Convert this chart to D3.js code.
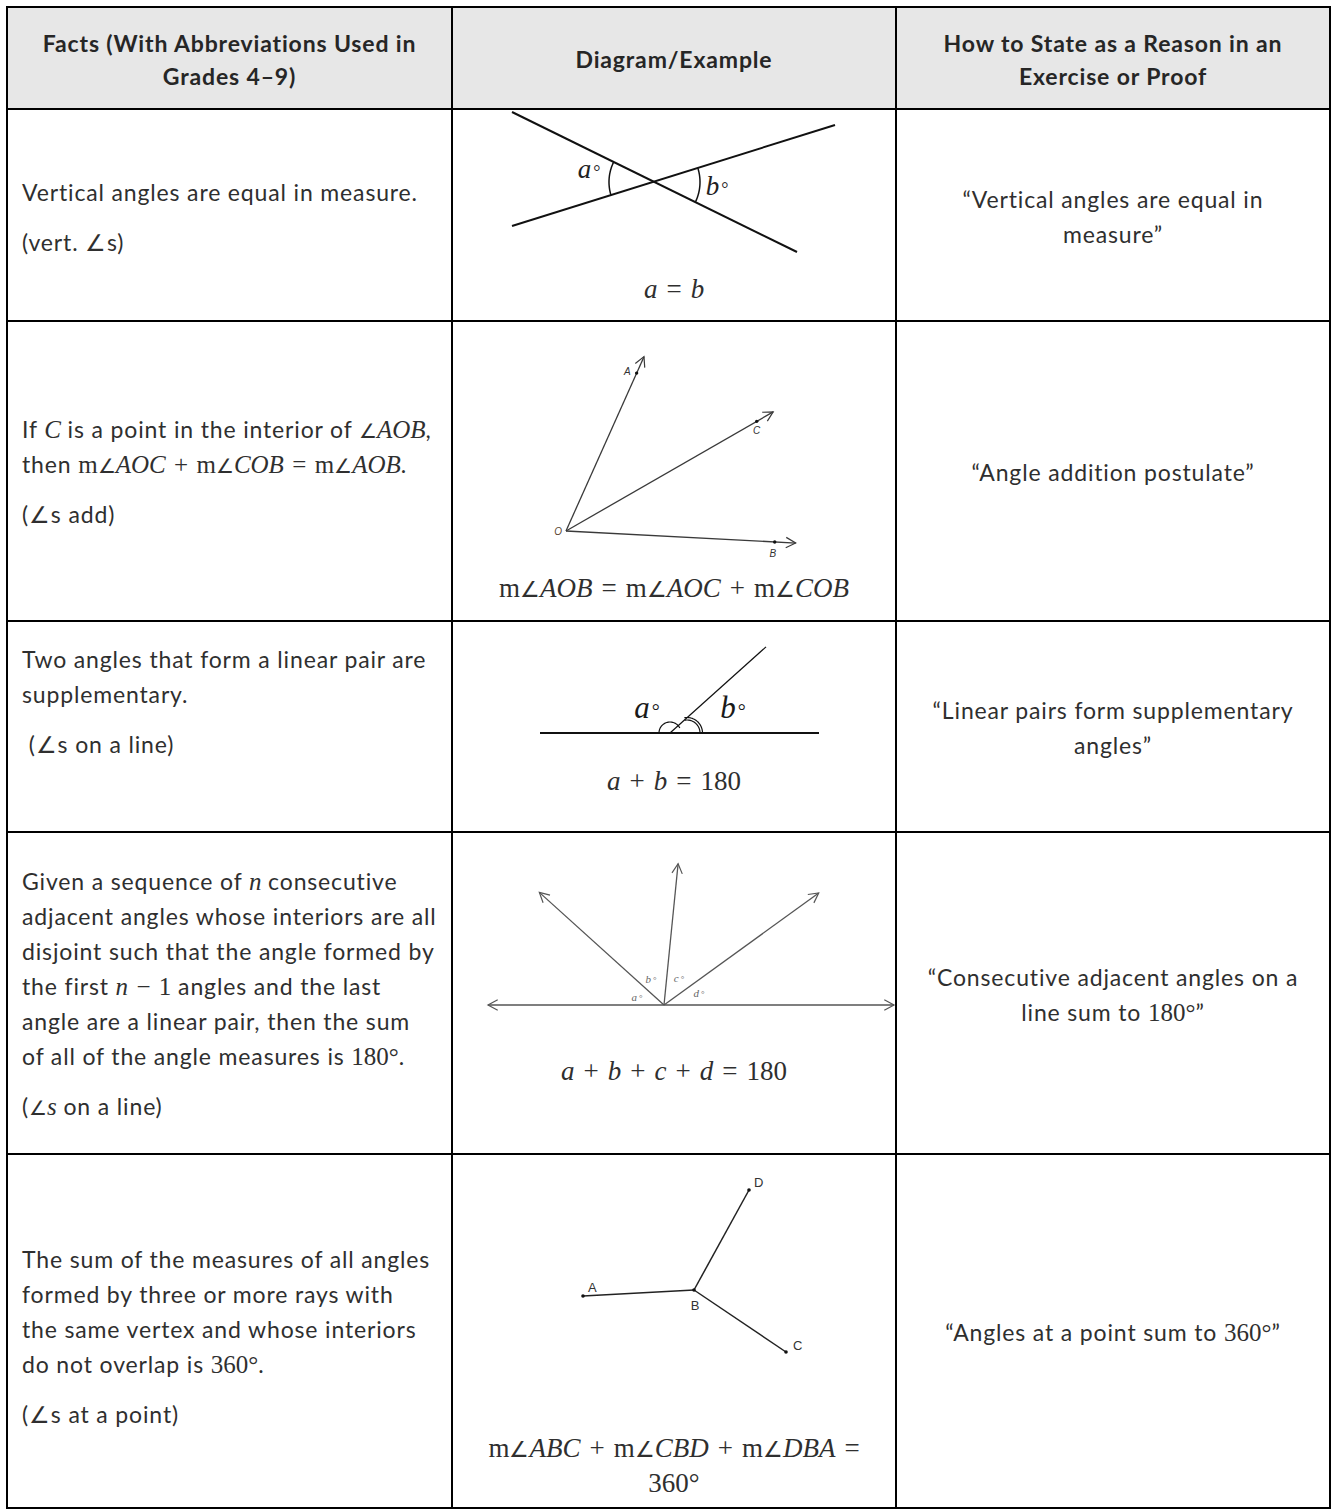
<!DOCTYPE html>
<html>
<head>
<meta charset="utf-8">
<script src="https://cdn.jsdelivr.net/npm/d3@7"></script>
<style>
  body { margin: 0; background: #fff; }
</style>
</head>
<body>
<div id="chart"></div>
<script>
// table text ($...$ marks math, letters inside are italic except the upright "m")
const headers = [
  ["Facts (With Abbreviations Used in", "Grades 4–9)"],
  ["Diagram/Example"],
  ["How to State as a Reason in an", "Exercise or Proof"]
];
const facts = [
  [["Vertical angles are equal in measure."], ["(vert. ∠s)"]],
  [["If $C$ is a point in the interior of $∠AOB$,", "then $m∠AOC + m∠COB = m∠AOB$."], ["(∠s add)"]],
  [["Two angles that form a linear pair are", "supplementary."], [" (∠s on a line)"]],
  [["Given a sequence of $n$ consecutive", "adjacent angles whose interiors are all",
    "disjoint such that the angle formed by", "the first $n − 1$ angles and the last",
    "angle are a linear pair, then the sum", "of all of the angle measures is $180°$."], ["($∠s$ on a line)"]],
  [["The sum of the measures of all angles", "formed by three or more rays with",
    "the same vertex and whose interiors", "do not overlap is $360°$."], ["(∠s at a point)"]]
];
const reasons = [
  ["“Vertical angles are equal in", "measure”"],
  ["“Angle addition postulate”"],
  ["“Linear pairs form supplementary", "angles”"],
  ["“Consecutive adjacent angles on a", "line sum to $180°$”"],
  ["“Angles at a point sum to $360°$”"]
];
const equations = [
  ["$a = b$"],
  ["$m∠AOB = m∠AOC + m∠COB$"],
  ["$a + b = 180$"],
  ["$a + b + c + d = 180$"],
  ["$m∠ABC + m∠CBD + m∠DBA =$", "$360°$"]
];

// diagram geometry, in px units relative to each diagram's vertex, y pointing up
const crossLines = [[[-142, 70], [143, -70]], [[-142, -44], [181, 57]]];
const crossLabels = [{t: "a", at: [-65, 4]}, {t: "b", at: [63, -13]}];

const aobRays = [
  {name: "A", deg: 65.9, point: 173, tip: 191},
  {name: "C", deg: 29.9, point: 220, tip: 239},
  {name: "B", deg: -3.0, point: 209, tip: 230}
];

const pairLine = [-130, 149];
const pairRay = {deg: 41.9, len: 129};
const pairLabels = [{t: "a", at: [-23, 15]}, {t: "b", at: [63, 15]}];

const adjLine = [-176, 230];
const adjRays = [{deg: 137.9, len: 168}, {deg: 84.3, len: 142}, {deg: 35.9, len: 191}];
const adjLabels = [{t: "a", at: [-27, 4]}, {t: "b", at: [-13, 22]}, {t: "c", at: [15, 23]}, {t: "d", at: [35, 8]}];

const pointRays = [{name: "A", at: [-111, -6]}, {name: "C", at: [92, -62]}, {name: "D", at: [55, 100]}];

// layout
const W = 1331, H = 1509;
const colX = [7, 452, 896, 1330];
const rowY = [7, 109, 321, 621, 832, 1154, 1508];
const factBase = [201, 438, 668, 890, 1268];
const eqBase = [298, 597, 790, 1080, 1457];
const vertex = [[654, 182], [566, 531], [670, 733], [664, 1005], [694, 1290]];

const sans = "Lato, 'Open Sans', sans-serif";
const serif = "'Liberation Serif', 'DejaVu Serif', serif";
const arial = "'Liberation Sans', Arial, sans-serif";
const ink = "#2f2f2f";
const textSize = 23, spacing = 0.85;

const svg = d3.select("#chart").append("svg")
  .attr("width", W)
  .attr("height", H)
  .style("font-family", sans);

// header band
svg.append("rect")
  .attr("x", colX[0]).attr("y", rowY[0])
  .attr("width", colX[3] - colX[0]).attr("height", rowY[1] - rowY[0])
  .attr("fill", "#e7e7e7");

function rich(sel, str, mathSize) {
  str.split("$").forEach((p, i) => {
    if (!p) return;
    if (i % 2 === 0) { sel.append("tspan").text(p); return; }
    const runs = [];
    for (let ch of p) {
      const kind = ch === "∠" ? "ang" : (/[A-Za-z]/.test(ch) && ch !== "m") ? "it" : "up";
      if (ch === " ") ch = "\u2004";
      if (runs.length && runs[runs.length - 1].kind === kind) runs[runs.length - 1].s += ch;
      else runs.push({s: ch, kind});
    }
    runs.forEach(r => sel.append("tspan")
      .attr("font-family", r.kind === "ang" ? sans : serif)
      .attr("font-size", r.kind === "ang" ? mathSize * 0.8 : mathSize)
      .attr("font-style", r.kind === "it" ? "italic" : "normal")
      .attr("letter-spacing", 0)
      .text(r.s));
  });
}

// header text
headers.forEach((lines, c) => {
  const cx = (colX[c] + colX[c + 1]) / 2;
  const mid = (rowY[0] + rowY[1]) / 2 + 10;
  lines.forEach((ln, i) => {
    svg.append("text")
      .attr("x", cx)
      .attr("y", mid + (i - (lines.length - 1) / 2) * 33)
      .attr("text-anchor", "middle")
      .attr("font-size", textSize)
      .attr("letter-spacing", spacing)
      .attr("font-weight", "bold")
      .attr("fill", "#262626")
      .text(ln);
  });
});

// facts column
facts.forEach((paras, r) => {
  let y = factBase[r];
  paras.forEach((lines, p) => {
    if (p > 0) y += 15;
    lines.forEach(ln => {
      const t = svg.append("text")
        .attr("x", colX[0] + 15).attr("y", y)
        .attr("font-size", textSize).attr("letter-spacing", spacing).attr("fill", ink)
        .style("white-space", "pre");
      rich(t, ln, 25);
      y += 35;
    });
  });
});

// reasons column
reasons.forEach((lines, r) => {
  const cx = (colX[2] + colX[3]) / 2;
  const mid = (rowY[r + 1] + rowY[r + 2]) / 2 + 10;
  lines.forEach((ln, i) => {
    const t = svg.append("text")
      .attr("x", cx)
      .attr("y", mid + (i - (lines.length - 1) / 2) * 35)
      .attr("text-anchor", "middle")
      .attr("font-size", textSize).attr("letter-spacing", spacing).attr("fill", ink);
    rich(t, ln, 25);
  });
});

// equations under diagrams
equations.forEach((lines, r) => {
  const cx = (colX[1] + colX[2]) / 2;
  lines.forEach((ln, i) => {
    const t = svg.append("text")
      .attr("x", cx).attr("y", eqBase[r] + i * 35)
      .attr("text-anchor", "middle")
      .attr("fill", ink)
      .style("white-space", "pre");
    rich(t, ln, 27);
  });
});

// helpers for diagrams
function frame(v) {
  return {
    x: d3.scaleLinear().domain([0, 1]).range([v[0], v[0] + 1]),
    y: d3.scaleLinear().domain([0, 1]).range([v[1], v[1] - 1])
  };
}
const rad = d => d * Math.PI / 180;
const polar = (deg, r) => [r * Math.cos(rad(deg)), r * Math.sin(rad(deg))];
function lineGen(f) { return d3.line().x(d => f.x(d[0])).y(d => f.y(d[1])); }
function arcPts(c, r, a0, a1) {
  return d3.range(0, 41).map(i => {
    const a = a0 + (a1 - a0) * i / 40;
    return [c[0] + r * Math.cos(rad(a)), c[1] + r * Math.sin(rad(a))];
  });
}
function arrowHead(g, f, tip, deg, color, size) {
  const p1 = [tip[0] - size * Math.cos(rad(deg + 28)), tip[1] - size * Math.sin(rad(deg + 28))];
  const p2 = [tip[0] - size * Math.cos(rad(deg - 28)), tip[1] - size * Math.sin(rad(deg - 28))];
  g.append("path").attr("d", lineGen(f)([p1, tip, p2]))
    .attr("fill", "none").attr("stroke", color).attr("stroke-width", 1.2);
}
function degLabel(g, f, l, size, ringSize, color) {
  const t = g.append("text")
    .attr("x", f.x(l.at[0])).attr("y", f.y(l.at[1]))
    .attr("text-anchor", "middle")
    .attr("font-family", serif).attr("fill", color);
  t.append("tspan").attr("font-style", "italic").attr("font-size", size).text(l.t);
  t.append("tspan").attr("font-size", ringSize).attr("dx", 2).text("°");
}

// diagram 1: vertical angles
{
  const f = frame(vertex[0]);
  const g = svg.append("g");
  crossLines.forEach(seg => g.append("path").attr("d", lineGen(f)(seg))
    .attr("stroke", "#111").attr("stroke-width", 2).attr("fill", "none"));
  const ang = p => Math.atan2(p[1], p[0]) * 180 / Math.PI;
  const aL = [ang(crossLines[0][0]), ang(crossLines[1][0]) + 360];
  const aR = [ang(crossLines[0][1]), ang(crossLines[1][1])];
  [[aL, 45], [aR, 46]].forEach(([a, r]) => g.append("path")
    .attr("d", lineGen(f)(arcPts([0, 0], r, a[0], a[1])))
    .attr("stroke", "#111").attr("stroke-width", 1.5).attr("fill", "none"));
  crossLabels.forEach(l => degLabel(g, f, l, 27, 18, "#222"));
}

// diagram 2: angle addition
{
  const f = frame(vertex[1]);
  const g = svg.append("g");
  const off = {A: [-6, -2, "end"], C: [0, -13, "middle"], B: [-2, -15, "middle"]};
  aobRays.forEach(r => {
    const tip = polar(r.deg, r.tip);
    const pt = polar(r.deg, r.point);
    g.append("path").attr("d", lineGen(f)([[0, 0], tip]))
      .attr("stroke", "#3a3a3a").attr("stroke-width", 1.3).attr("fill", "none");
    arrowHead(g, f, tip, r.deg, "#3a3a3a", 11);
    g.append("circle").attr("cx", f.x(pt[0])).attr("cy", f.y(pt[1])).attr("r", 1.7).attr("fill", "#111");
    const o = off[r.name];
    g.append("text").attr("x", f.x(pt[0] + o[0])).attr("y", f.y(pt[1] + o[1]))
      .attr("text-anchor", o[2]).attr("font-size", 10).attr("font-style", "italic")
      .attr("font-family", arial).attr("fill", "#333").text(r.name);
  });
  g.append("text").attr("x", f.x(-4)).attr("y", f.y(-4))
    .attr("text-anchor", "end").attr("font-size", 10).attr("font-style", "italic")
    .attr("font-family", arial).attr("fill", "#5a4630").text("O");
}

// diagram 3: linear pair
{
  const f = frame(vertex[2]);
  const g = svg.append("g");
  g.append("path").attr("d", lineGen(f)([[pairLine[0], 0], [pairLine[1], 0]]))
    .attr("stroke", "#111").attr("stroke-width", 2).attr("fill", "none");
  g.append("path").attr("d", lineGen(f)([[0, 0], polar(pairRay.deg, pairRay.len)]))
    .attr("stroke", "#111").attr("stroke-width", 1.2).attr("fill", "none");
  g.append("path").attr("d", lineGen(f)(arcPts([0, 0], 11, 27, 180)))
    .attr("stroke", "#111").attr("stroke-width", 1.2).attr("fill", "none");
  [13, 15.5].forEach(r => g.append("path").attr("d", lineGen(f)(arcPts([17, 0], r, 0, 100)))
    .attr("stroke", "#111").attr("stroke-width", 1.2).attr("fill", "none"));
  pairLabels.forEach(l => degLabel(g, f, l, 31, 20, "#1a1a1a"));
}

// diagram 4: consecutive adjacent angles on a line
{
  const f = frame(vertex[3]);
  const g = svg.append("g");
  const col = "#555";
  g.append("path").attr("d", lineGen(f)([[adjLine[0], 0], [adjLine[1], 0]]))
    .attr("stroke", col).attr("stroke-width", 1.3).attr("fill", "none");
  arrowHead(g, f, [adjLine[0], 0], 180, col, 11);
  arrowHead(g, f, [adjLine[1], 0], 0, col, 11);
  adjRays.forEach(r => {
    const tip = polar(r.deg, r.len);
    g.append("path").attr("d", lineGen(f)([[0, 0], tip]))
      .attr("stroke", col).attr("stroke-width", 1.3).attr("fill", "none");
    arrowHead(g, f, tip, r.deg, col, 11);
  });
  adjLabels.forEach(l => degLabel(g, f, l, 11, 9, "#666"));
}

// diagram 5: angles at a point
{
  const f = frame(vertex[4]);
  const g = svg.append("g");
  const off = {A: [5, 4, "start"], C: [7, 2, "start"], D: [5, 3, "start"]};
  pointRays.forEach(p => {
    g.append("path").attr("d", lineGen(f)([[0, 0], p.at]))
      .attr("stroke", "#222").attr("stroke-width", 1.5).attr("fill", "none");
    g.append("circle").attr("cx", f.x(p.at[0])).attr("cy", f.y(p.at[1])).attr("r", 1.8).attr("fill", "#111");
    const o = off[p.name];
    g.append("text").attr("x", f.x(p.at[0] + o[0])).attr("y", f.y(p.at[1] + o[1]))
      .attr("text-anchor", o[2]).attr("font-size", 13)
      .attr("font-family", arial).attr("fill", "#333").text(p.name);
  });
  g.append("circle").attr("cx", f.x(0)).attr("cy", f.y(0)).attr("r", 1.8).attr("fill", "#111");
  g.append("text").attr("x", f.x(1)).attr("y", f.y(-20))
    .attr("text-anchor", "middle").attr("font-size", 13)
    .attr("font-family", arial).attr("fill", "#333").text("B");
}

// table rules
const rules = svg.append("g").attr("stroke", "#000").attr("stroke-width", 2);
rowY.forEach(y => rules.append("line").attr("x1", colX[0] - 1).attr("x2", colX[3] + 1).attr("y1", y).attr("y2", y));
colX.forEach(x => rules.append("line").attr("x1", x).attr("x2", x).attr("y1", rowY[0]).attr("y2", rowY[rowY.length - 1]));
</script>
</body>
</html>
